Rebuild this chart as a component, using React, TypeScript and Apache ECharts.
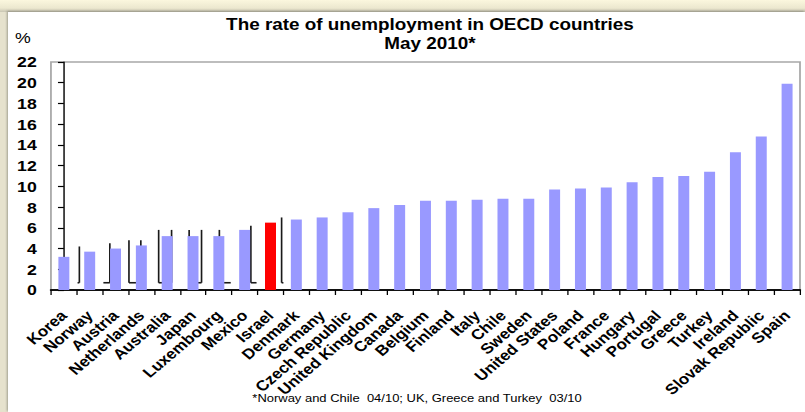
import React, { useEffect, useRef } from 'react';
import * as echarts from 'echarts';

const categories = [
  'Korea', 'Norway', 'Austria', 'Netherlands', 'Australia', 'Japan', 'Luxembourg', 'Mexico',
  'Israel', 'Denmark', 'Germany', 'Czech Republic', 'United Kingdom', 'Canada', 'Belgium',
  'Finland', 'Italy', 'Chile', 'Sweden', 'United States', 'Poland', 'France', 'Hungary',
  'Portugal', 'Greece', 'Turkey', 'Ireland', 'Slovak Republic', 'Spain',
];
const rates = [
  3.2, 3.7, 4.0, 4.3, 5.2, 5.2, 5.2, 5.8,
  6.5, 6.8, 7.0, 7.5, 7.9, 8.2, 8.6,
  8.6, 8.7, 8.8, 8.8, 9.7, 9.8, 9.9, 10.4,
  10.9, 11.0, 11.4, 13.3, 14.8, 19.9,
];
const highlighted = 'Israel';
const yTicks = { min: 0, max: 22, interval: 2 };

// stray bracket strokes visible in the source image (category position, top value)
const bracketVerticals = [
  [0.6, 4.2], [1.78, 4.5], [2.52, 4.8], [2.98, 4.8], [3.67, 5.8], [4.17, 5.8],
  [4.85, 5.8], [5.33, 5.8], [6.02, 5.8], [7.24, 6.2], [8.43, 7.0],
];
const bracketBases = [
  [0.53, 0.6], [1.53, 1.78], [2.52, 2.98], [3.67, 4.17], [4.85, 5.33],
  [6.02, 6.46], [7.24, 7.46], [8.43, 8.5],
];
const bracketBaseValue = 0.7;

const titleText = 'The rate of unemployment in OECD countries\nMay 2010*';
const footnote = '*Norway and Chile  04/10; UK, Greece and Turkey  03/10';

const SX = 1.18;
const W = 797 / SX;
const FONT = 'Liberation Sans, Arial, sans-serif';

export default function App() {
  const ref = useRef<HTMLDivElement>(null);
  useEffect(() => {
    const chart = echarts.init(ref.current!, null, { renderer: 'svg', width: W, height: 400 });
    const plotRight = 792 / SX;
    const option: any = {
      animation: false,
      backgroundColor: 'transparent',
      title: {
        text: titleText,
        left: 357.6,
        top: 3,
        textAlign: 'center',
        padding: 0,
        textStyle: { fontFamily: FONT, fontWeight: 'bold', fontSize: 16, lineHeight: 19, color: '#000' },
      },
      graphic: [
        { type: 'text', x: 6, y: 18, style: { text: '%', font: '15px ' + FONT, fill: '#000' } },
        {
          type: 'text', x: 346.6, y: 386,
          style: { text: footnote, font: '11px ' + FONT, fill: '#000', align: 'center', verticalAlign: 'middle' },
        },
      ],
      grid: {
        left: 36.4, right: W - plotRight, top: 50, bottom: 122,
        show: true, borderColor: '#a8a8a8', borderWidth: 1.5, backgroundColor: '#fff',
      },
      xAxis: [
        {
          type: 'category',
          data: categories,
          boundaryGap: true,
          axisLine: { lineStyle: { color: '#111', width: 2 } },
          axisTick: { show: true, alignWithLabel: false, interval: 0, length: 5, lineStyle: { color: '#000', width: 1.1 } },
          axisLabel: {
            interval: 0, rotate: 45, margin: 23, color: '#000', padding: [0, 0, 9, 0],
            fontFamily: FONT, fontWeight: 'bold', fontSize: 14.5,
          },
        },
        { type: 'value', min: -0.5, max: categories.length - 0.5, show: false },
      ],
      yAxis: {
        type: 'value',
        min: yTicks.min, max: yTicks.max, interval: yTicks.interval,
        axisLine: { show: true, lineStyle: { color: '#000', width: 1.2 } },
        axisTick: { show: true, length: 5, lineStyle: { color: '#000', width: 1.2 } },
        splitLine: { show: false },
        axisLabel: { margin: 12, color: '#000', fontFamily: FONT, fontWeight: 'bold', fontSize: 15 },
      },
      series: [
        {
          type: 'bar',
          barWidth: 9.3,
          data: rates.map((v, i) => ({
            value: v,
            itemStyle: { color: categories[i] === highlighted ? '#ff0000' : '#9999ff' },
          })),
        },
        {
          type: 'custom',
          xAxisIndex: 1,
          yAxisIndex: 0,
          silent: true,
          data: bracketVerticals,
          renderItem: (_p: any, api: any) => {
            const a = api.coord([api.value(0), api.value(1)]);
            const b = api.coord([api.value(0), bracketBaseValue]);
            return {
              type: 'line',
              shape: { x1: a[0], y1: a[1], x2: b[0], y2: b[1] },
              style: { stroke: '#1a1a1a', lineWidth: 1.4 },
            };
          },
        },
        {
          type: 'custom',
          xAxisIndex: 1,
          yAxisIndex: 0,
          silent: true,
          data: bracketBases,
          renderItem: (_p: any, api: any) => {
            const a = api.coord([api.value(0), bracketBaseValue]);
            const b = api.coord([api.value(1), bracketBaseValue]);
            return {
              type: 'line',
              shape: { x1: a[0], y1: a[1], x2: b[0], y2: b[1] },
              style: { stroke: '#1a1a1a', lineWidth: 1.6 },
            };
          },
        },
      ],
    };
    chart.setOption(option);
    return () => chart.dispose();
  }, []);

  return (
    <div
      style={{
        position: 'fixed', left: 0, top: 0, width: 805, height: 412, overflow: 'hidden',
        background: 'linear-gradient(to bottom, #fbf7de 0px, #ece8cf 8px, #c9c6b3 12px, #e6e2cd 12px)',
      }}
    >
      <div
        style={{
          position: 'absolute', left: 8, top: 12, width: 797, height: 400, background: '#fff',
          boxShadow: '-1px -1px 2px rgba(80,80,70,0.45)',
        }}
      >
        <div ref={ref} style={{ width: W, height: 400, transform: `scaleX(${SX})`, transformOrigin: '0 0' }} />
      </div>
    </div>
  );
}
